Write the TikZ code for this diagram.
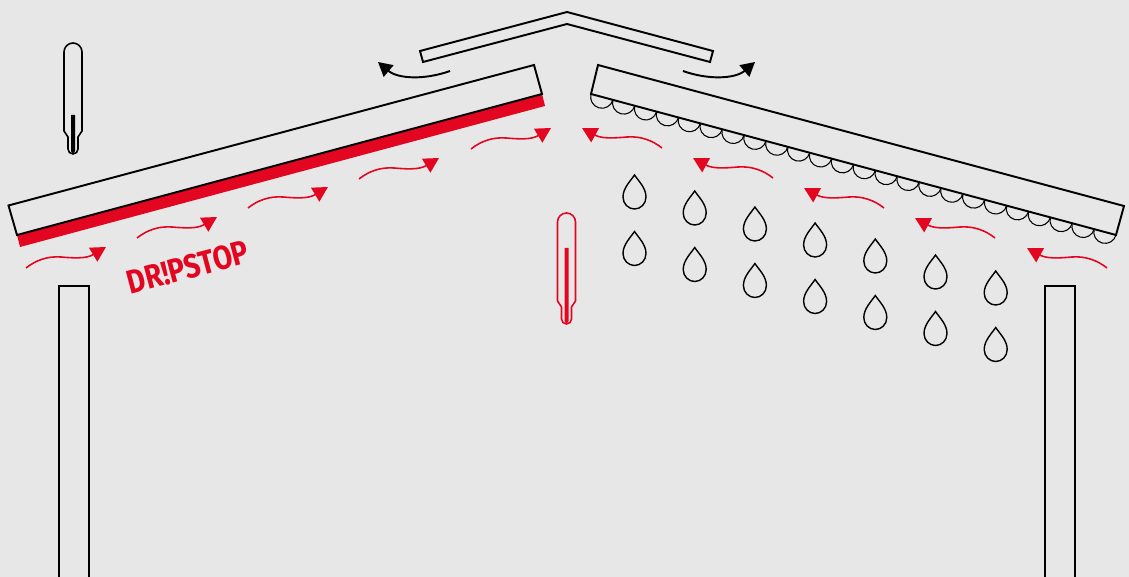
\documentclass[tikz,border=0pt]{standalone}
\usepackage{fontspec}
\setsansfont{Fira Sans}
\newfontfamily\brandfont{Fira Sans}[FakeStretch=0.84]
\usepackage{xcolor}
\usetikzlibrary{arrows.meta}

\definecolor{bggray}{RGB}{231,231,231}
\definecolor{dsred}{RGB}{227,6,33}

% thermometer: colour, start of the column
\tikzset{pics/thermo/.style 2 args={code={
    \draw[#1,line width=0.9pt] (-9,9) arc (180:360:9) -- (9,88) -- (5,94) -- (5,106)
        arc (0:180:5) -- (-5,94) -- (-9,88) -- cycle;
    \fill[#1] (-2,#2) -- (2,#2) -- (2,108) arc (0:180:2) -- cycle;
}}}

\begin{document}
\begin{tikzpicture}[x=0.02cm,y=-0.02cm,
    outline/.style={draw=black,line width=1.1pt},
    flow/.style={dsred,line width=0.9pt,-{Triangle[length=0.3cm,width=0.32cm]}},
    vent/.style={black,line width=1.1pt,-{Triangle[length=0.28cm,width=0.3cm]}},
    drop/.style={black,line width=0.8pt},
    scallop/.style={black,line width=0.6pt}]

    % Background
    \fill[bggray] (0,0) rectangle (1129,577);
    \clip (0,0) rectangle (1129,577);

    % Posts
    \draw[outline] (59,286) rectangle (89,590);
    \draw[outline] (1045,286) rectangle (1075,590);

    % Left roof panel with the fleece underneath
    \fill[dsred] (17,235) -- (542,94) -- (545,106) -- (20,247) -- cycle;
    \draw[outline] (17,235) -- (8.5,205.5) -- (534,65) -- (542,94) -- cycle;

    % Right roof panel with condensation
    \draw[outline] (591,94) -- (598,65) -- (1124,206) -- (1116,235) -- cycle;
    \foreach \i in {0,...,23}
        \draw[scallop] ({591+21.875*\i},{94+5.875*\i}) arc (195:15:11.33);

    % Ridge cap
    \draw[outline] (420,51) -- (567,12) -- (713,51) -- (710,62) -- (567,24) -- (423,62) -- cycle;

    % Air leaving at the ridge
    \draw[vent] (450,71) .. controls (425,80) and (398,79) .. (378,62);
    \draw[vent] (683,71) .. controls (708,80) and (735,79) .. (755,62);

    % Warm air flowing up under the panels
    \foreach \x/\y in {26/268,137/238,248/208,359/179,471/149} {
        \begin{scope}[shift={(\x,\y)}]
            \draw[flow] (0,0) .. controls (10,-8) and (22,-12) .. (35,-11)
                .. controls (47,-10) and (60,-9) .. (80,-21);
        \end{scope}
    }
    \foreach \x/\y in {662/148,773/178,884/208,995/238,1107/268} {
        \begin{scope}[shift={(\x,\y)},xscale=-1]
            \draw[flow] (0,0) .. controls (10,-8) and (22,-12) .. (35,-11)
                .. controls (47,-10) and (60,-9) .. (80,-20);
        \end{scope}
    }

    % Drops
    \foreach \i in {0,...,6}
        \foreach \j in {0,1}
            \draw[drop,shift={({634.5+60.2*\i},{175+16*\i+56.5*\j})}]
                (0,0) .. controls (-4,6) and (-11.5,13) .. (-11.5,22)
                .. controls (-11.5,29) and (-6,34) .. (0,34)
                .. controls (6,34) and (11.5,29) .. (11.5,22)
                .. controls (11.5,13) and (4,6) .. (0,0) -- cycle;

    % Thermometers
    \pic at (73,43) {thermo={black}{72}};
    \pic at (566.5,213) {thermo={dsred}{35}};

    % Label
    \node[dsred,font=\brandfont\bfseries\fontsize{19}{19}\selectfont,rotate=15,inner sep=0pt] (brand) at (188,267) {DR!PSTOP};
\end{tikzpicture}
\end{document}
